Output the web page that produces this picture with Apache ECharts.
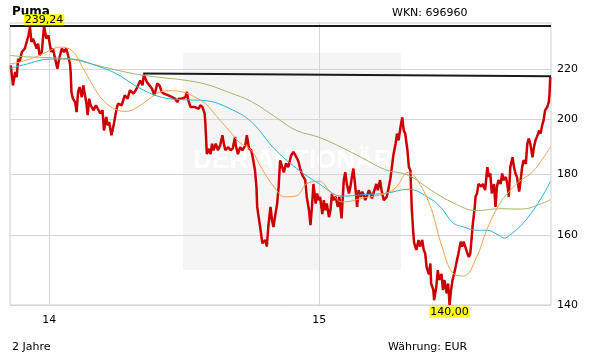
<!DOCTYPE html>
<html>
<head>
<meta charset="utf-8">
<script src="https://cdn.jsdelivr.net/npm/echarts@6/dist/echarts.min.js"></script>
<style>
html,body{margin:0;padding:0;background:#fff;}
#chart{width:611px;height:364px;}
</style>
</head>
<body>
<div id="chart"></div>
<script>
// ---- data ----
var title = 'Puma';
var wkn = 'WKN: 696960';
var periodText = '2 Jahre';
var currencyText = 'Währung: EUR';
var xTickDates = ['2014-01-01', '2015-01-01'];
var yTickValues = [140, 160, 180, 200, 220];
var xRange = ['2013-11-09', '2015-11-10'];
var yRange = [140, 240.5];
var highLine = 239.24;
var trendLine = [['2014-05-08', 218.3], ['2015-11-10', 217.1]];

var price = [
['2013-11-10',221.7],['2013-11-13',213.4],['2013-11-16',218.9],['2013-11-18',216.8],['2013-11-20',224.5],
['2013-11-22',223.2],['2013-11-25',227.5],['2013-11-29',229.0],['2013-12-04',234.8],['2013-12-06',238.6],
['2013-12-08',231.9],['2013-12-10',233.4],['2013-12-15',229.0],['2013-12-17',231.2],['2013-12-19',226.0],
['2013-12-22',227.5],['2013-12-25',239.24],['2013-12-28',233.4],['2013-12-31',234.8],['2014-01-02',230.4],
['2014-01-04',227.5],['2014-01-06',229.0],['2014-01-09',224.5],['2014-01-12',220.3],['2014-01-15',225.3],
['2014-01-18',229.0],['2014-01-21',227.5],['2014-01-24',229.0],['2014-01-27',225.3],['2014-01-29',222.4],
['2014-01-30',218.9],['2014-01-31',210.7],['2014-02-02',208.0],['2014-02-05',206.6],['2014-02-07',202.7],
['2014-02-09',210.7],['2014-02-11',212.7],['2014-02-14',208.6],['2014-02-16',213.4],['2014-02-18',214.1],
['2014-02-20',206.6],['2014-02-22',201.5],['2014-02-24',208.0],['2014-02-26',205.4],['2014-03-02',203.4],
['2014-03-05',205.4],['2014-03-07',206.0],['2014-03-11',202.2],['2014-03-14',203.4],['2014-03-16',195.7],
['2014-03-19',200.8],['2014-03-21',197.6],['2014-03-23',198.9],['2014-03-26',193.9],['2014-03-29',197.6],
['2014-03-31',198.3],['2014-04-02',204.0],['2014-04-04',206.0],['2014-04-09',205.4],['2014-04-13',209.3],
['2014-04-17',208.0],['2014-04-20',211.4],['2014-04-25',210.0],['2014-04-29',212.0],['2014-05-04',215.4],
['2014-05-07',213.4],['2014-05-09',217.8],['2014-05-13',214.7],['2014-05-15',214.1],['2014-05-20',212.0],
['2014-05-23',209.3],['2014-05-27',214.1],['2014-05-30',213.4],['2014-06-02',210.7],['2014-06-05',210.0],
['2014-06-07',210.7],['2014-06-11',209.3],['2014-06-16',208.6],['2014-06-20',208.0],['2014-06-23',206.6],
['2014-06-25',208.0],['2014-06-29',208.0],['2014-07-04',208.6],['2014-07-06',210.7],['2014-07-08',207.3],
['2014-07-11',204.7],['2014-07-13',204.0],['2014-07-17',204.7],['2014-07-22',204.0],['2014-07-24',205.4],
['2014-07-27',204.7],['2014-07-30',202.2],['2014-07-31',198.3],['2014-08-02',187.0],['2014-08-04',189.0],
['2014-08-07',187.0],['2014-08-09',190.8],['2014-08-11',188.4],['2014-08-14',190.8],['2014-08-17',188.4],
['2014-08-20',190.2],['2014-08-23',193.9],['2014-08-25',190.8],['2014-08-27',188.4],['2014-08-31',189.5],
['2014-09-03',188.4],['2014-09-06',189.0],['2014-09-09',193.3],['2014-09-10',190.2],['2014-09-13',187.0],
['2014-09-16',189.5],['2014-09-19',188.4],['2014-09-23',190.2],['2014-09-25',193.9],['2014-09-28',189.0],
['2014-10-01',188.4],['2014-10-03',185.9],['2014-10-06',181.3],['2014-10-08',175.6],['2014-10-09',169.0],
['2014-10-11',165.7],['2014-10-13',162.6],['2014-10-16',157.6],['2014-10-18',157.1],['2014-10-20',158.6],
['2014-10-22',156.6],['2014-10-24',162.6],['2014-10-27',169.0],['2014-10-29',164.8],['2014-10-31',162.6],
['2014-11-02',165.7],['2014-11-05',170.1],['2014-11-07',175.6],['2014-11-09',184.8],['2014-11-11',185.0],
['2014-11-14',180.6],['2014-11-17',183.7],['2014-11-20',182.4],['2014-11-24',186.6],['2014-11-27',187.8],
['2014-11-29',188.4],['2014-12-02',185.4],['2014-12-04',184.2],['2014-12-06',181.9],['2014-12-09',179.6],
['2014-12-11',179.0],['2014-12-13',177.9],['2014-12-15',172.2],['2014-12-18',167.9],['2014-12-20',163.2],
['2014-12-22',169.1],['2014-12-24',176.6],['2014-12-27',170.1],['2014-12-29',173.4],['2014-12-31',171.2],
['2015-01-02',172.3],['2015-01-05',166.7],['2015-01-07',171.2],['2015-01-09',167.9],['2015-01-11',170.1],
['2015-01-14',165.7],['2015-01-16',167.9],['2015-01-18',173.4],['2015-01-20',171.2],['2015-01-23',172.3],
['2015-01-26',169.0],['2015-01-28',172.3],['2015-01-31',165.3],['2015-02-03',177.9],['2015-02-05',180.6],
['2015-02-07',176.8],['2015-02-10',173.4],['2015-02-12',175.7],['2015-02-14',179.0],['2015-02-16',181.9],
['2015-02-19',174.5],['2015-02-21',169.0],['2015-02-23',174.5],['2015-02-26',172.3],['2015-02-28',174.0],
['2015-03-02',172.8],['2015-03-04',171.2],['2015-03-06',171.2],['2015-03-09',174.5],['2015-03-11',173.4],
['2015-03-13',171.8],['2015-03-15',171.2],['2015-03-19',176.6],['2015-03-21',174.5],['2015-03-24',177.9],
['2015-03-26',174.5],['2015-03-29',171.2],['2015-04-02',172.3],['2015-04-05',175.7],['2015-04-07',178.5],
['2015-04-09',182.4],['2015-04-11',186.6],['2015-04-14',190.8],['2015-04-16',194.5],['2015-04-18',192.0],
['2015-04-21',197.6],['2015-04-23',200.7],['2015-04-25',195.7],['2015-04-27',194.5],['2015-04-30',188.4],
['2015-05-02',182.4],['2015-05-04',181.3],['2015-05-06',167.9],['2015-05-08',160.6],['2015-05-09',157.8],
['2015-05-12',155.6],['2015-05-15',158.6],['2015-05-17',156.6],['2015-05-20',158.6],['2015-05-22',155.6],
['2015-05-24',154.6],['2015-05-26',150.5],['2015-05-29',148.5],['2015-05-31',151.6],['2015-06-01',145.9],
['2015-06-04',144.1],['2015-06-05',141.3],['2015-06-08',144.9],['2015-06-10',149.7],['2015-06-12',146.9],
['2015-06-15',148.6],['2015-06-17',144.1],['2015-06-19',146.9],['2015-06-22',143.2],['2015-06-24',145.9],
['2015-06-26',140.0],['2015-06-28',144.1],['2015-06-30',146.9],['2015-07-02',148.6],['2015-07-04',150.5],
['2015-07-06',152.6],['2015-07-08',154.6],['2015-07-11',158.1],['2015-07-13',156.6],['2015-07-15',158.1],
['2015-07-17',157.6],['2015-07-20',154.6],['2015-07-22',153.5],['2015-07-24',154.6],['2015-07-27',162.6],
['2015-07-28',164.8],['2015-07-30',169.0],['2015-07-31',172.3],['2015-08-02',173.4],['2015-08-04',176.6],
['2015-08-08',175.7],['2015-08-10',176.6],['2015-08-13',174.5],['2015-08-16',182.4],['2015-08-18',179.0],
['2015-08-20',180.2],['2015-08-22',173.4],['2015-08-25',176.6],['2015-08-27',169.0],['2015-08-29',175.7],
['2015-08-31',177.9],['2015-09-03',176.6],['2015-09-05',180.2],['2015-09-07',177.9],['2015-09-10',179.0],
['2015-09-12',176.6],['2015-09-14',172.3],['2015-09-16',182.4],['2015-09-19',185.9],['2015-09-21',182.4],
['2015-09-23',180.2],['2015-09-25',179.0],['2015-09-28',174.0],['2015-09-30',177.9],['2015-10-02',182.4],
['2015-10-04',184.8],['2015-10-07',183.6],['2015-10-09',190.8],['2015-10-11',192.7],['2015-10-13',190.8],
['2015-10-16',185.9],['2015-10-18',189.6],['2015-10-20',192.0],['2015-10-22',193.3],['2015-10-25',195.7],
['2015-10-27',194.5],['2015-10-29',197.6],['2015-10-31',199.5],['2015-11-02',203.4],['2015-11-05',204.7],
['2015-11-07',206.6],['2015-11-08',209.9],['2015-11-09',216.8]
];

var maShort = [
['2013-11-09',222.4],['2013-11-16',222.7],['2013-12-01',224.0],['2013-12-15',225.5],['2014-01-01',228.0],
['2014-01-15',229.6],['2014-02-01',228.0],['2014-02-15',220.9],['2014-03-01',213.3],['2014-03-15',207.3],
['2014-04-01',203.7],['2014-04-15',203.0],['2014-05-01',204.8],['2014-05-15',207.7],['2014-06-01',210.8],
['2014-06-15',211.2],['2014-07-01',210.6],['2014-07-15',208.9],['2014-08-01',205.8],['2014-08-15',201.1],
['2014-09-01',195.7],['2014-09-15',191.3],['2014-10-01',188.4],['2014-10-15',182.0],['2014-11-01',175.5],
['2014-11-15',172.3],['2014-12-01',172.6],['2014-12-15',176.7],['2015-01-01',177.5],['2015-01-15',174.2],
['2015-02-01',170.6],['2015-02-15',171.0],['2015-03-01',171.9],['2015-03-15',172.5],['2015-04-01',173.4],
['2015-04-15',175.6],['2015-05-01',180.6],['2015-05-15',177.3],['2015-06-01',168.5],['2015-06-15',157.1],
['2015-07-01',148.7],['2015-07-15',148.0],['2015-08-01',153.2],['2015-08-15',161.6],['2015-09-01',169.8],
['2015-09-15',174.2],['2015-10-01',178.0],['2015-10-15',180.4],['2015-11-01',186.2],['2015-11-09',189.5]
];

var maMid = [
['2013-11-09',220.4],['2013-12-01',222.2],['2014-01-01',224.4],['2014-02-01',224.4],['2014-03-01',222.1],
['2014-04-01',218.3],['2014-05-01',212.6],['2014-06-01',208.6],['2014-07-01',207.6],['2014-08-01',207.2],
['2014-09-01',204.2],['2014-10-01',199.0],['2014-11-01',189.0],['2014-12-01',182.0],['2015-01-01',176.6],
['2015-02-01',172.5],['2015-03-01',173.0],['2015-04-01',173.5],['2015-05-01',174.8],['2015-06-01',171.5],
['2015-06-15',168.6],['2015-07-01',163.8],['2015-07-15',162.6],['2015-08-01',161.6],['2015-08-15',161.6],
['2015-09-01',160.0],['2015-09-08',159.2],['2015-09-15',160.0],['2015-10-01',163.2],['2015-10-15',167.2],
['2015-11-01',173.6],['2015-11-09',177.4]
];

var maLong = [
['2013-11-09',226.0],['2013-12-01',225.4],['2014-01-01',225.0],['2014-02-01',224.3],['2014-03-01',222.2],
['2014-04-01',219.8],['2014-05-01',217.9],['2014-06-01',216.6],['2014-07-01',215.6],['2014-08-01',213.8],
['2014-09-01',210.5],['2014-10-01',206.9],['2014-11-01',201.1],['2014-12-01',195.7],['2015-01-01',193.1],
['2015-02-01',189.3],['2015-03-01',185.5],['2015-04-01',181.4],['2015-05-01',179.6],['2015-06-01',174.5],
['2015-07-01',170.3],['2015-08-01',167.8],['2015-09-01',168.4],['2015-10-01',168.3],['2015-11-01',170.4],
['2015-11-09',171.4]
];

// ---- chart ----
var FONT = 'DejaVu Sans';
function ts(s) { return new Date(s + 'T00:00:00').getTime(); }
function toXY(arr) { return arr.map(function (p) { return [ts(p[0]), p[1]]; }); }
function fmtDE(v) { return v.toFixed(2).replace('.', ','); }
var xTicks = xTickDates.map(ts);

var chart = echarts.init(document.getElementById('chart'), null, {renderer: 'canvas'});

var option = {
  animation: false,
  backgroundColor: '#ffffff',
  grid: {left: 10, right: 60, top: 23, bottom: 59, show: true, borderColor: '#cfcfcf', borderWidth: 1, backgroundColor: 'transparent'},
  xAxis: {
    type: 'value', min: ts(xRange[0]), max: ts(xRange[1]),
    axisLine: {show: false},
    axisTick: {show: false, customValues: xTicks},
    axisLabel: {customValues: xTicks, color: '#000', fontSize: 11, fontFamily: FONT, margin: 10,
      formatter: function (v) { return String(new Date(v).getFullYear()).slice(2); }},
    splitLine: {show: true, lineStyle: {color: '#d6d6d6', width: 1}}
  },
  yAxis: {
    type: 'log', position: 'right', min: yRange[0], max: yRange[1],
    axisLine: {show: false},
    axisTick: {show: false, customValues: yTickValues},
    axisLabel: {customValues: yTickValues, color: '#000', fontSize: 11, fontFamily: FONT, margin: 6,
      formatter: function (v) { return String(Math.round(v)); }},
    splitLine: {show: true, lineStyle: {color: '#d6d6d6', width: 1}}
  },
  graphic: [
    {type: 'rect', z: -100, silent: true, shape: {x: 183, y: 53, width: 218, height: 217}, style: {fill: '#f5f5f5'}},
    {type: 'text', z: -99, silent: true, x: 293, y: 161,
      style: {text: 'DER AKTIONÄR', font: 'bold 26px "Liberation Sans"', fill: '#ffffff', align: 'center', verticalAlign: 'middle', textAlign: 'center', textVerticalAlign: 'middle'}},
    {type: 'text', z: 1, x: 12, y: 12,
      style: {text: title, font: 'bold 12px "DejaVu Sans"', fill: '#000', align: 'left', verticalAlign: 'middle', textAlign: 'left', textVerticalAlign: 'middle'}},
    {type: 'text', z: 1, x: 392, y: 13.5,
      style: {text: wkn, font: '11px "DejaVu Sans"', fill: '#000', align: 'left', verticalAlign: 'middle', textAlign: 'left', textVerticalAlign: 'middle'}},
    {type: 'text', z: 1, x: 12, y: 347,
      style: {text: periodText, font: '11px "DejaVu Sans"', fill: '#000', align: 'left', verticalAlign: 'middle', textAlign: 'left', textVerticalAlign: 'middle'}},
    {type: 'text', z: 1, x: 388, y: 347,
      style: {text: currencyText, font: '11px "DejaVu Sans"', fill: '#000', align: 'left', verticalAlign: 'middle', textAlign: 'left', textVerticalAlign: 'middle'}}
  ],
  series: [
    {
      name: 'Kurs', type: 'line', data: toXY(price), showSymbol: false, z: 2,
      lineStyle: {color: '#cc0000', width: 2.5}, itemStyle: {color: '#cc0000'},
      markLine: {
        silent: true, symbol: ['none', 'none'], animation: false,
        label: {show: false},
        lineStyle: {color: '#1a1a1a', width: 2, type: 'solid'},
        data: [
          {yAxis: highLine},
          [{coord: [ts(trendLine[0][0]), trendLine[0][1]]}, {coord: [ts(trendLine[1][0]), trendLine[1][1]]}]
        ]
      },
      markPoint: {
        silent: true, symbol: 'circle', symbolSize: 1, itemStyle: {color: 'rgba(0,0,0,0)'},
        data: [
          {type: 'max', label: {show: true, position: 'top', distance: 0, formatter: function (p) { return fmtDE(p.value); },
            backgroundColor: '#ffff00', color: '#000', fontSize: 11, fontFamily: FONT, lineHeight: 11, padding: [0, 1, 0, 1]}},
          {type: 'min', label: {show: true, position: 'bottom', distance: 1, formatter: function (p) { return fmtDE(p.value); },
            backgroundColor: '#ffff00', color: '#000', fontSize: 11, fontFamily: FONT, lineHeight: 11, padding: [0, 1, 0, 1]}}
        ]
      }
    },
    {name: 'GD200', type: 'line', data: toXY(maLong), showSymbol: false, smooth: 0.4, z: 3, lineStyle: {color: '#a3b56b', width: 1}},
    {name: 'GD100', type: 'line', data: toXY(maMid), showSymbol: false, smooth: 0.4, z: 3, lineStyle: {color: '#2fb4d6', width: 1}},
    {name: 'GD38', type: 'line', data: toXY(maShort), showSymbol: false, smooth: 0.4, z: 3, lineStyle: {color: '#f0a356', width: 1}}
  ]
};
chart.setOption(option);
</script>
</body>
</html>
